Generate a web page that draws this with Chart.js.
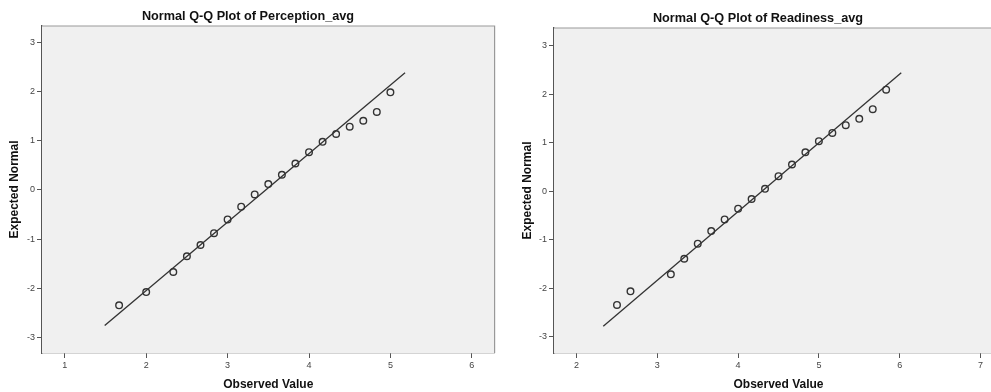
<!DOCTYPE html>
<html>
<head>
<meta charset="utf-8">
<script src="https://cdn.jsdelivr.net/npm/chart.js@4"></script>
<style>
body{margin:0;width:991px;height:392px;overflow:hidden;background:#fff;position:relative;}
canvas{position:absolute;top:0;}
#qqLeft{left:0;}
#qqRight{left:500px;}
</style>
</head>
<body>
<canvas id="qqLeft" width="500" height="392"></canvas>
<canvas id="qqRight" width="516" height="392"></canvas>
<script>

const yTicks=[-3,-2,-1,0,1,2,3];

const perceptionTicks=[1,2,3,4,5,6];
const perceptionObs=[1.667,2,2.333,2.5,2.667,2.833,3,3.167,3.333,3.5,3.667,3.833,4,4.167,4.333,4.5,4.667,4.833,5];
const perceptionExp=[-2.35,-2.08,-1.67,-1.35,-1.12,-0.88,-0.6,-0.34,-0.09,0.12,0.31,0.54,0.77,0.98,1.14,1.29,1.41,1.59,1.99];
const perceptionLineX=[1.49,5.18];
const perceptionLineY=[-2.76,2.39];

const readinessTicks=[2,3,4,5,6,7];
const readinessObs=[2.5,2.667,3.167,3.333,3.5,3.667,3.833,4,4.167,4.333,4.5,4.667,4.833,5,5.167,5.333,5.5,5.667,5.833];
const readinessExp=[-2.34,-2.06,-1.71,-1.39,-1.08,-0.82,-0.58,-0.36,-0.16,0.05,0.31,0.55,0.8,1.03,1.2,1.36,1.49,1.69,2.09];
const readinessLineX=[2.33,6.02];
const readinessLineY=[-2.78,2.44];


const plotBox={
id:"plotBox",
beforeDatasetsDraw(chart){
let a=chart.chartArea, c=chart.ctx;
c.save();
c.fillStyle="#f0f0f0";
c.fillRect(a.left,a.top,a.right-a.left,a.bottom-a.top);
c.strokeStyle="#999";
c.lineWidth=1.2;
c.beginPath();
c.moveTo(a.left,a.top);
c.lineTo(a.right,a.top);
c.lineTo(a.right,a.bottom);
c.stroke();
c.restore();
}
};

function pairs(xs,ys){
return xs.map((x,i)=>({x:x,y:ys[i]}));
}

function qqChart(id,title,obs,exp,lineX,lineY,xTicks,xMin,xMax,yMin,yMax,pad){

return new Chart(document.getElementById(id),{
type:"scatter",
data:{
datasets:[{
data:pairs(obs,exp),
pointRadius:3.3,
pointBorderWidth:1.4,
pointBackgroundColor:"rgba(0,0,0,0)",
pointBorderColor:"#333"
},{
type:"line",
data:pairs(lineX,lineY),
showLine:true,
pointRadius:0,
borderColor:"#333",
borderWidth:1.3,
fill:false
}]
},
options:{
responsive:false,
animation:false,
layout:{padding:{left:pad.left,right:pad.right,top:0,bottom:0}},
plugins:{
legend:{display:false},
tooltip:{enabled:false},
title:{
display:true,
text:title,
color:"#111",
font:{family:"Liberation Sans",size:12.7,weight:"bold"},
padding:{top:pad.titleTop,bottom:26+pad.extraTop-pad.titleTop-15.24}
}
},
scales:{
x:{
type:"linear",
min:xMin,
max:xMax,
afterBuildTicks:s=>{s.ticks=xTicks.map(v=>({value:v}));},
afterFit:s=>{s.height=39;},
grid:{drawOnChartArea:false,drawTicks:true,tickLength:5,color:"#555"},
border:{display:true,color:"#555",width:1.3},
ticks:{color:"#444",font:{family:"Liberation Sans",size:9},padding:2,maxRotation:0},
title:{display:true,text:"Observed Value",color:"#111",font:{family:"Liberation Sans",size:12,weight:"bold"},padding:{top:4,bottom:0}}
},
y:{
type:"linear",
min:yMin,
max:yMax,
afterBuildTicks:s=>{s.ticks=yTicks.map(v=>({value:v}));},
afterFit:s=>{s.width=pad.yWidth;},
grid:{drawOnChartArea:false,drawTicks:true,tickLength:5,color:"#555"},
border:{display:true,color:"#555",width:1.3},
ticks:{color:"#444",font:{family:"Liberation Sans",size:9},padding:2},
title:{display:true,text:"Expected Normal",color:"#111",font:{family:"Liberation Sans",size:12,weight:"bold"},padding:{top:7,bottom:0}}
}
}
},
plugins:[plotBox]
});

}

qqChart("qqLeft","Normal Q-Q Plot of Perception_avg",perceptionObs,perceptionExp,perceptionLineX,perceptionLineY,
perceptionTicks,0.72,6.28,-3.32,3.34,{left:0,right:4,yWidth:42,titleTop:9,extraTop:0});

qqChart("qqRight","Normal Q-Q Plot of Readiness_avg",readinessObs,readinessExp,readinessLineX,readinessLineY,
readinessTicks,1.72,7.28,-3.33,3.36,{left:13,right:13,yWidth:41,titleTop:11,extraTop:2});

</script>
</body>
</html>
